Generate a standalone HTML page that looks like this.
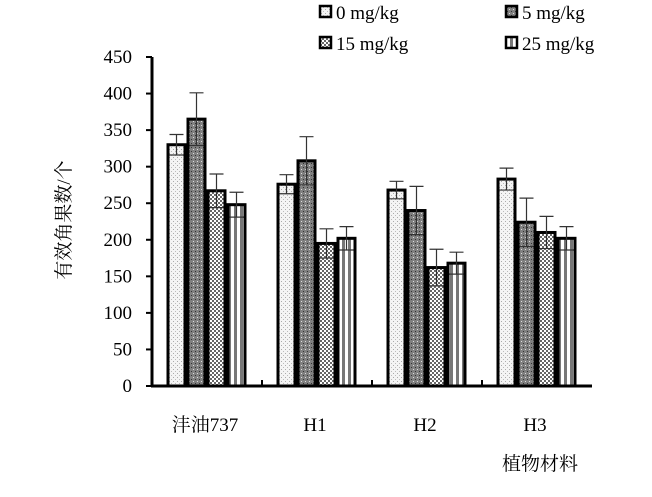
<!DOCTYPE html>
<html><head><meta charset="utf-8"><style>
body{margin:0;background:#fff;}
svg text{font-family:"Liberation Serif","Noto Serif CJK SC",serif;fill:#000;}
</style></head><body>
<svg width="652" height="492" viewBox="0 0 652 492">
<defs>
<pattern id="p0" width="4" height="4" patternUnits="userSpaceOnUse"><rect width="4" height="4" fill="#f4f4f4"/><rect x="1" y="1" width="1" height="1" fill="#aaa"/><rect x="3" y="3" width="1" height="1" fill="#bbb"/></pattern>
<pattern id="p1" width="4" height="4" patternUnits="userSpaceOnUse"><rect width="4" height="4" fill="#808080"/><rect x="1" y="1" width="1" height="1" fill="#ddd"/><rect x="3" y="3" width="1" height="1" fill="#333"/></pattern>
<pattern id="p2" width="4" height="4" patternUnits="userSpaceOnUse"><rect width="4" height="4" fill="#fff"/><rect width="2" height="2" fill="#666"/><rect x="2" y="2" width="2" height="2" fill="#666"/></pattern>
<pattern id="p3" width="6" height="4" patternUnits="userSpaceOnUse"><rect width="6" height="4" fill="#fff"/><rect x="0" width="3" height="4" fill="#777"/></pattern>
</defs>
<g id="axes"></g>
<g id="bars"></g>
<g id="legend"></g>
<text x="70" y="220" font-size="19" text-anchor="middle" transform="rotate(-90 70 220)" fill="#333">有效角果数/个</text>
<text x="540" y="470" font-size="19" text-anchor="middle" fill="#333">植物材料</text>
</svg>
<script>
const categories=["沣油737","H1","H2","H3"];
const seriesNames=["0 mg/kg","5 mg/kg","15 mg/kg","25 mg/kg"];
const s0=[330,276,268,283];
const s1=[365,308,240,224];
const s2=[267,195,162,210];
const s3=[248,202,168,202];
const e0=[14,13,12,15];
const e1=[36,33,33,33];
const e2=[23,20,25,22];
const e3=[17,16,15,16];
const yTicks=[0,50,100,150,200,250,300,350,400,450];
const series=[s0,s1,s2,s3], errs=[e0,e1,e2,e3];
const NS="http://www.w3.org/2000/svg";
const X0=152,X1=592,Y0=386,Y1=57,YMAX=450;
const y=v=>Y0-(v/YMAX)*(Y0-Y1);
const gw=(X1-X0)/categories.length;
function mk(tag,attrs,parent){const e=document.createElementNS(NS,tag);for(const k in attrs)e.setAttribute(k,attrs[k]);parent.appendChild(e);return e;}
const axes=document.getElementById('axes'),bars=document.getElementById('bars'),leg=document.getElementById('legend');
let l=mk('line',{x1:X0,y1:Y1,x2:X0,y2:Y0+1,stroke:'#000','stroke-width':3},axes);


l=mk('line',{x1:X0-1,y1:Y0,x2:X1,y2:Y0,stroke:'#000','stroke-width':3},axes);


yTicks.forEach(t=>{
 const tk=mk('line',{x1:X0-6,x2:X0,y1:y(t),y2:y(t),stroke:'#000','stroke-width':2},axes);
 
 
 const tx=mk('text',{x:X0-20,y:y(t)+6,'font-size':19,'text-anchor':'end'},axes);
 tx.textContent=t;
 
 
});
categories.forEach((c,i)=>{
 const gx=X0+i*gw;
 if(i>0){const tk=mk('line',{x1:gx,x2:gx,y1:Y0-6,y2:Y0,stroke:'#000','stroke-width':2},axes);
  
  }
 const tx=mk('text',{x:gx+gw/2-2,y:431,'font-size':19,'text-anchor':'middle'},axes);
 tx.textContent=c;
 
 
 series.forEach((s,j)=>{
  const bx=gx+16+j*20, v=s[i], e=errs[j][i];
  const r=mk('rect',{x:bx,y:y(v),width:17,height:Y0-y(v),fill:`url(#p${j})`,stroke:'#000','stroke-width':3},bars);
  
  
  const cx=bx+8.5;
  const eb=mk('path',{d:`M${cx},${y(v-e)}V${y(v+e)}M${cx-7},${y(v+e)}H${cx+7}M${cx-7},${y(v-e)}H${cx+7}`,stroke:'#333','stroke-width':1.2,fill:'none'},bars);
  
  
 });
});
const lp=[[320,18],[506,18],[320,49],[506,49]];
seriesNames.forEach((n,j)=>{
 const g=mk('g',{},leg);
 
 
 mk('rect',{x:lp[j][0],y:lp[j][1]-12,width:11,height:11,fill:`url(#p${j})`,stroke:'#000','stroke-width':2.5},g);
 const t=mk('text',{x:lp[j][0]+16,y:lp[j][1]+1,'font-size':19},g);
 t.textContent=n;
});
</script>
</body></html>
